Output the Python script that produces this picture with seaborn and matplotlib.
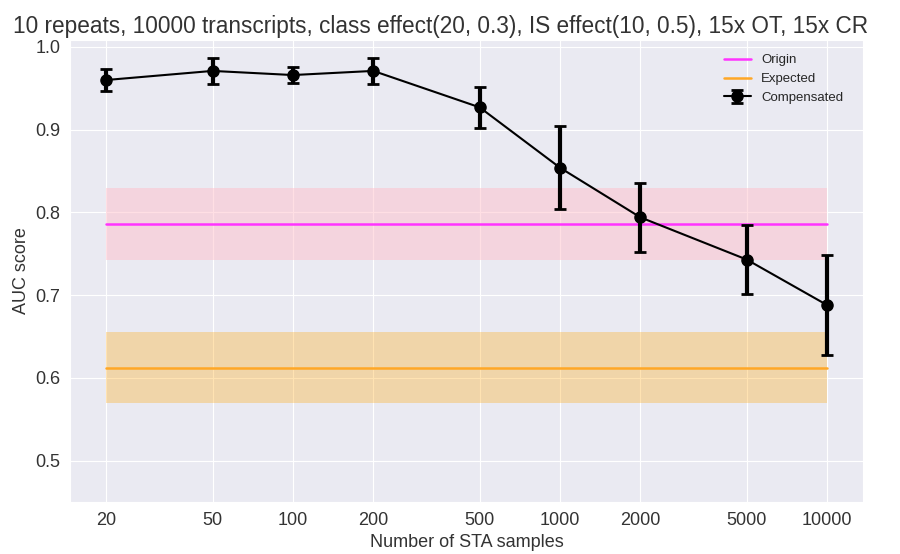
import matplotlib
matplotlib.use("Agg")
import matplotlib.pyplot as plt
import seaborn as sns
import numpy as np
import pandas as pd

# Data
sta_samples = [20, 50, 100, 200, 500, 1000, 2000, 5000, 10000]
compensated_auc = [0.960, 0.971, 0.966, 0.971, 0.927, 0.854, 0.794, 0.743, 0.688]
compensated_err = [0.013, 0.016, 0.010, 0.016, 0.025, 0.050, 0.042, 0.042, 0.060]
origin_auc = 0.786
origin_err = 0.0435
expected_auc = 0.612
expected_err = 0.043
tick_labels = ["20", "50", "100", "200", "500", "1000", "2000", "5000", "10000"]

sns.set_style("darkgrid")
plt.rcParams["font.family"] = ["Liberation Sans", "DejaVu Sans"]

fig = plt.figure(figsize=(9, 5.54), dpi=100)
ax = fig.add_axes([0.078, 0.094, 0.881, 0.834])

span = [sta_samples[0], sta_samples[-1]]
df_lines = pd.DataFrame({
    "x": span + span,
    "y": [origin_auc] * 2 + [expected_auc] * 2,
    "series": ["Origin"] * 2 + ["Expected"] * 2,
})
sns.lineplot(data=df_lines, x="x", y="y", hue="series",
             palette={"Origin": "#ff33ff", "Expected": "#ffa726"},
             linewidth=1.8, ax=ax)
ax.fill_between(span, origin_auc - origin_err, origin_auc + origin_err,
                color="pink", alpha=0.5, linewidth=0)
ax.fill_between(span, expected_auc - expected_err, expected_auc + expected_err,
                color="orange", alpha=0.3, linewidth=0)

ax.errorbar(sta_samples, compensated_auc, yerr=compensated_err,
            color="black", marker="o", markersize=8, linewidth=1.5,
            elinewidth=3, capsize=4, capthick=2, label="Compensated")

ax.set_xscale("log")
ax.set_xticks(sta_samples)
ax.set_xticklabels(tick_labels)
ax.minorticks_off()
ax.set_ylim(0.45, 1.0085)
ax.set_yticks([0.5, 0.6, 0.7, 0.8, 0.9, 1.0])
ax.set_yticklabels(["0.5", "0.6", "0.7", "0.8", "0.9", "1.0"])
ax.tick_params(labelsize=13, colors="#333333")
ax.set_xlabel("Number of STA samples", fontsize=13, color="#333333")
ax.set_ylabel("AUC score", fontsize=13, color="#333333")
ax.set_title("10 repeats, 10000 transcripts, class effect(20, 0.3), IS effect(10, 0.5), 15x OT, 15x CR",
             fontsize=16.3, color="#333333", pad=5, x=0.467)

handles, labels = ax.get_legend_handles_labels()
ax.legend(handles, labels, loc="upper right", fontsize=9.5, frameon=False,
          bbox_to_anchor=(0.99, 0.995))

fig.savefig("out.png", dpi=100)
